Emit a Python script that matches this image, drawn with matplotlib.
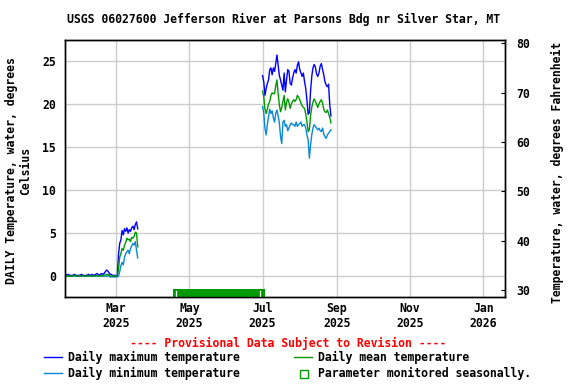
import matplotlib
matplotlib.use('Agg')
import matplotlib.pyplot as plt
import matplotlib.dates as mdates
from matplotlib.lines import Line2D
from matplotlib.patches import Rectangle
import numpy as np
import pandas as pd

plt.rcParams['font.family'] = 'DejaVu Sans Mono'
plt.rcParams['font.weight'] = 'bold'
plt.rcParams['font.size'] = 8.3

# 冬季数据 2025-01-17 起 62 天
winter_start = '2025-01-17'
winter_max = [0.1, 0.2, 0.1, 0.2, 0.1, 0.1, 0.0, 0.1, 0.2, 0.1, 0.1, 0.0, 0.1, 0.1,
              0.2, 0.1, 0.1, 0.0, 0.1, 0.1, 0.2, 0.1, 0.1, 0.2, 0.1, 0.1, 0.2, 0.3,
              0.2, 0.1, 0.2, 0.3, 0.2, 0.3, 0.5, 0.7, 0.6, 0.4, 0.2, 0.2, 0.1, 0.0,
              0.1, 0.0, 0.1, 2.5, 3.8, 4.2, 5.3, 4.8, 5.5, 5.2, 5.6, 5.0, 5.4, 5.2,
              5.6, 5.8, 5.4, 6.0, 6.3, 5.5]
winter_mean = [0.0, 0.1, 0.0, 0.0, 0.0, 0.0, 0.0, 0.0, 0.1, 0.0, 0.0, 0.0, 0.0, 0.0,
               0.0, 0.0, 0.0, 0.0, 0.0, 0.0, 0.0, 0.0, 0.0, 0.0, 0.0, 0.0, 0.0, 0.1,
               0.0, 0.0, 0.0, 0.1, 0.0, 0.1, 0.1, 0.2, 0.2, 0.1, 0.0, 0.0, 0.0, 0.0,
               0.0, 0.0, 0.0, 0.8, 2.2, 2.6, 3.2, 3.0, 3.6, 3.9, 4.4, 4.2, 4.3, 4.0,
               4.5, 4.4, 4.6, 5.1, 5.0, 3.4]
winter_min = [0.0, 0.0, 0.0, 0.0, 0.0, 0.0, 0.0, 0.0, 0.0, 0.0, 0.0, 0.0, 0.0, 0.0,
              0.0, 0.0, 0.0, 0.0, 0.0, 0.0, 0.0, 0.0, 0.0, 0.0, 0.0, 0.0, 0.0, 0.0,
              0.0, 0.0, 0.0, 0.0, 0.0, 0.0, 0.0, 0.0, 0.0, 0.0, -0.1, -0.1, -0.1, -0.1,
              -0.1, -0.1, -0.1, 0.0, 0.5, 1.2, 1.6, 1.3, 2.2, 2.6, 2.8, 3.0, 2.6, 3.2,
              3.5, 3.8, 3.6, 4.0, 3.0, 2.1]

# 夏季数据 2025-07-01 起 58 天
summer_start = '2025-07-01'
summer_max = [23.3, 22.6, 21.0, 21.8, 22.4, 22.8, 24.0, 24.2, 23.4, 24.2, 23.8, 24.7,
              25.7, 24.5, 23.3, 22.8, 22.2, 21.6, 23.6, 21.4, 22.8, 24.0, 23.8, 22.4,
              22.2, 23.0, 23.6, 24.0, 23.6, 24.5, 24.9, 24.0, 23.6, 23.2, 23.6, 22.6,
              21.8, 20.4, 18.8, 19.0, 21.5, 23.2, 24.2, 24.6, 24.3, 23.5, 23.2, 23.6,
              24.4, 24.7, 24.0, 23.4, 22.6, 22.2, 22.0, 22.3, 19.9, 18.6]
summer_mean = [21.5, 20.9, 19.4, 18.9, 19.4, 20.0, 20.3, 21.0, 21.3, 21.2, 21.2, 22.1,
               22.8, 21.2, 19.9, 19.1, 19.6, 20.3, 21.0, 19.3, 20.2, 20.6, 20.2, 19.5,
               20.0, 20.3, 20.5, 20.3, 20.5, 21.0, 20.8, 20.5, 20.1, 19.8, 19.6, 19.5,
               18.8, 17.9, 16.8, 17.0, 18.6, 19.6, 20.2, 20.6, 20.3, 20.0, 19.6, 20.0,
               20.3, 20.5, 20.1, 19.4, 19.1, 19.0, 19.3, 18.9, 18.4, 17.8]
summer_min = [19.7, 19.0, 17.2, 16.4, 17.6, 18.5, 19.4, 18.9, 19.2, 18.4, 17.9, 18.9,
              19.3, 18.6, 17.8, 16.2, 15.4, 17.9, 18.1, 17.4, 17.6, 16.9, 17.2, 17.6,
              17.8, 17.6, 17.6, 17.4, 17.9, 17.4, 17.6, 17.7, 17.9, 17.4, 17.6, 17.6,
              17.2, 16.4, 15.8, 13.7, 15.2, 16.4, 17.2, 17.6, 17.4, 17.2, 17.0, 17.2,
              16.9, 16.8, 17.2, 16.5, 16.2, 16.0, 16.4, 16.6, 16.8, 17.0]

# 季节性监测时段
seasonal_start = '2025-04-17'
seasonal_end = '2025-07-03'
seasonal_marks = ['2025-04-20', '2025-06-29']

COLOR_MAX = '#0000ff'
COLOR_MEAN = '#009900'
COLOR_MIN = '#0a88d6'

fig = plt.figure(figsize=(5.76, 3.84), dpi=100)
ax = fig.add_axes([64.5 / 576, 1 - 296.7 / 384, 440.5 / 576, 256.7 / 384])

d_w = pd.date_range(winter_start, periods=len(winter_max), freq='D')
d_s = pd.date_range(summer_start, periods=len(summer_max), freq='D')

for d, mx, mn, mi in [(d_w, winter_max, winter_mean, winter_min),
                      (d_s, summer_max, summer_mean, summer_min)]:
    ax.plot(d, mi, color=COLOR_MIN, lw=1)
    ax.plot(d, mx, color=COLOR_MAX, lw=1)
    ax.plot(d, mn, color=COLOR_MEAN, lw=1)

ylo, yhi = -2.4, 27.44
ax.set_ylim(ylo, yhi)
ax.set_xlim(pd.Timestamp('2025-01-17'), pd.Timestamp('2026-01-19'))

# 季节性监测条
s0 = mdates.date2num(pd.Timestamp(seasonal_start))
s1 = mdates.date2num(pd.Timestamp(seasonal_end))
ax.add_patch(Rectangle((s0, ylo), s1 - s0, 0.92, facecolor=COLOR_MEAN,
                       edgecolor='none', zorder=3, clip_on=False))
for m in seasonal_marks:
    ax.plot([pd.Timestamp(m)] * 2, [ylo + 0.12, ylo + 0.72], color='white', lw=0.9, zorder=4)

ax.set_yticks([0, 5, 10, 15, 20, 25])
ax.xaxis.set_major_locator(mdates.MonthLocator(bymonth=[1, 3, 5, 7, 9, 11]))
ax.xaxis.set_major_formatter(mdates.DateFormatter('%b\n%Y'))
ax.tick_params(axis='both', length=0, pad=6)
ax.tick_params(axis='x', pad=4)
ax.grid(True, color='#cccccc', lw=1)
ax.set_axisbelow(True)
for sp in ax.spines.values():
    sp.set_linewidth(1)

ax2 = ax.twinx()
ax2.set_ylim(28.64, 80.67)
ax2.set_yticks([30, 40, 50, 60, 70, 80])
ax2.tick_params(axis='y', direction='in', length=3, pad=8)
for sp in ax2.spines.values():
    sp.set_linewidth(1)

fig.text(284 / 576, 1 - 19 / 384, 'USGS 06027600 Jefferson River at Parsons Bdg nr Silver Star, MT',
         ha='center', va='center')
fig.text(19 / 576, 1 - 171 / 384, 'DAILY Temperature, water, degrees\nCelsius',
         ha='center', va='center', rotation=90, linespacing=1.1)
fig.text(557 / 576, 1 - 172 / 384, 'Temperature, water, degrees Fahrenheit',
         ha='center', va='center', rotation=90)

fig.text(288 / 576, 1 - 343 / 384, '---- Provisional Data Subject to Revision ----',
         ha='center', va='center', color='red')

legend_items = [
    (44, 357, COLOR_MAX, 'Daily maximum temperature'),
    (294, 357, COLOR_MEAN, 'Daily mean temperature'),
    (44, 373, COLOR_MIN, 'Daily minimum temperature'),
]
for x, y, c, label in legend_items:
    yf = 1 - y / 384
    fig.add_artist(Line2D([x / 576, (x + 18) / 576], [yf, yf], color=c, lw=1,
                          transform=fig.transFigure))
    fig.text((x + 24) / 576, yf, label, ha='left', va='center')

fig.add_artist(Rectangle((300 / 576, 1 - 377.5 / 384), 8 / 576, 8 / 384, facecolor='none',
                         edgecolor=COLOR_MEAN, lw=1, transform=fig.transFigure))
fig.text(318 / 576, 1 - 373 / 384, 'Parameter monitored seasonally.', ha='left', va='center')

fig.savefig('out.png', dpi=100)
